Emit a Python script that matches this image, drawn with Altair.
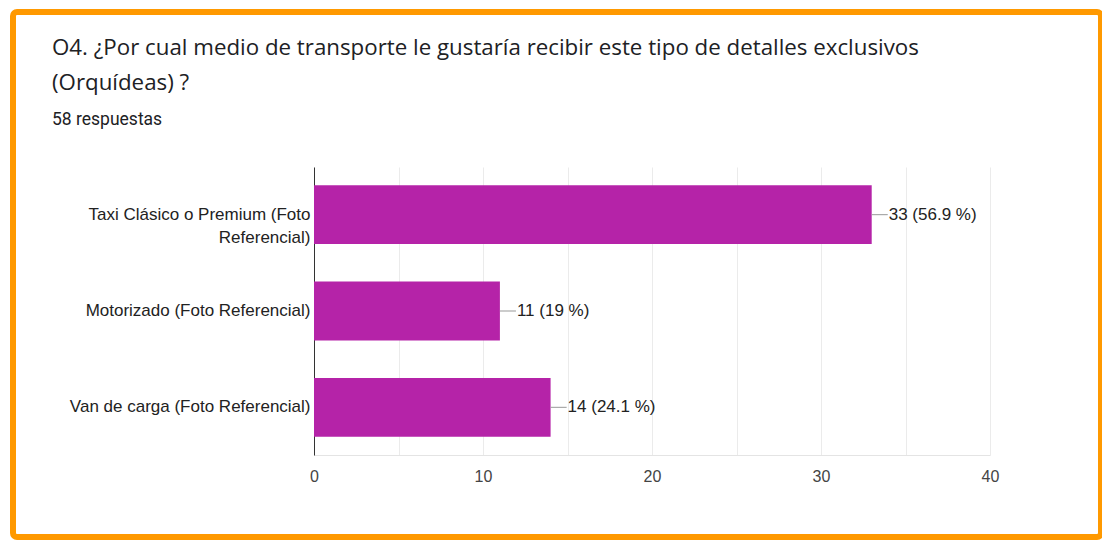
import altair as alt
import pandas as pd

categories = [
    "Taxi Clásico o Premium (Foto Referencial)",
    "Motorizado (Foto Referencial)",
    "Van de carga (Foto Referencial)",
]
counts = [33, 11, 14]
percents = ["56.9", "19", "24.1"]
x_ticks = [0, 5, 10, 15, 20, 25, 30, 35, 40]

title_line1 = "O4. ¿Por cual medio de transporte le gustaría recibir este tipo de detalles exclusivos"
title_line2 = "(Orquídeas) ?"
subtitle = "58 respuestas"

df = pd.DataFrame({
    "cat": categories,
    "count": counts,
    "label": [f"{c} ({p} %)" for c, p in zip(counts, percents)],
})

BAR = "#B523A8"
FONT = "Liberation Sans"

y_enc = alt.Y(
    "cat:N",
    sort=categories,
    scale=alt.Scale(paddingInner=0.39, paddingOuter=0.19),
    axis=alt.Axis(
        title=None,
        ticks=False,
        grid=False,
        domainColor="#333333",
        labelFont=FONT,
        labelFontSize=17,
        labelColor="#222222",
        labelPadding=4,
        labelLimit=400,
        labelLineHeight=23,
        labelExpr="datum.label == 'Taxi Clásico o Premium (Foto Referencial)' ? ['Taxi Clásico o Premium (Foto', 'Referencial)'] : datum.label",
    ),
)
x_enc = alt.X(
    "count:Q",
    scale=alt.Scale(domain=[0, 40], nice=False),
    axis=alt.Axis(
        title=None,
        values=x_ticks,
        labelExpr="datum.value % 10 == 0 ? datum.label : ''",
        labelFlush=False,
        ticks=False,
        grid=True,
        gridColor="#ebebeb",
        domainColor="#e4e4e4",
        labelFont=FONT,
        labelFontSize=16,
        labelColor="#444444",
        labelPadding=13,
    ),
)

base = alt.Chart(df)
bars = base.mark_bar(color=BAR).encode(x=x_enc, y=y_enc)
leader = base.transform_calculate(xe="datum.count + 0.95").mark_rule(
    color="#999999", strokeWidth=1
).encode(x="count:Q", x2="xe:Q", y=alt.Y("cat:N", sort=categories))
labels = base.mark_text(
    align="left", baseline="middle", dx=17, font=FONT, fontSize=17, color="#222222"
).encode(x="count:Q", y=alt.Y("cat:N", sort=categories), text="label:N")


def text_layer(txt, y, size, font):
    return alt.Chart(alt.Data(values=[{"t": txt}])).mark_text(
        align="left", baseline="alphabetic", font=font, fontSize=size, color="#202124"
    ).encode(x=alt.value(-262), y=alt.value(y), text="t:N")


t1 = text_layer(title_line1, -112, 22.3, "Open Sans")
t2 = text_layer(title_line2, -77, 22.3, "Open Sans")
st = text_layer(subtitle, -42, 17.5, "Roboto")

border = alt.Chart(alt.Data(values=[{}])).mark_rect(
    fill="white", fillOpacity=0, stroke="#FF9900", strokeWidth=6, cornerRadius=4
).encode(
    x=alt.value(-301), x2=alt.value(787), y=alt.value(-155), y2=alt.value(370)
)

chart = alt.layer(bars, leader, labels, t1, t2, st, border).properties(
    width=676,
    height=288,
    autosize=alt.AutoSizeParams(type="none"),
    padding={"left": 306, "top": 159, "right": 112, "bottom": 85},
).configure_view(stroke=None)

chart.save("out.html", embed_options={"renderer": "svg", "actions": False})
